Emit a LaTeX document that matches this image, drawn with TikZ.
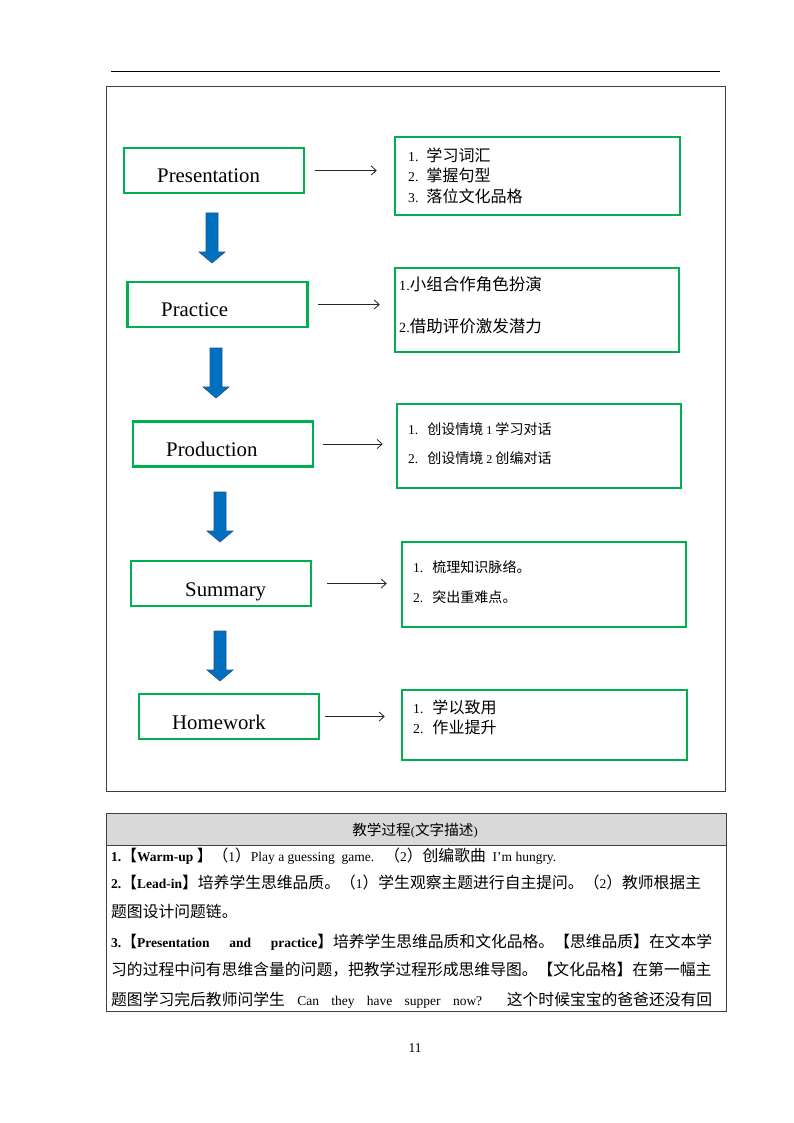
\documentclass[tikz,border=0pt]{standalone}
\usepackage{fontspec}
\setmainfont{Liberation Serif}
\newfontfamily\cjk[Scale=1.17]{Noto Sans CJK SC}
\newcommand\zh[1]{{\cjk #1}}
\newcommand\bignum[1]{{\fontsize{13.5}{16}\selectfont #1}}
\XeTeXlinebreaklocale "zh"
\XeTeXlinebreakskip=0pt plus 2pt minus 0.5pt
\usetikzlibrary{arrows.meta}
\definecolor{boxgreen}{RGB}{0,176,80}
\definecolor{arrowblue}{RGB}{0,112,192}
\definecolor{arrowedge}{RGB}{40,80,140}
\definecolor{framegray}{RGB}{64,64,64}
\definecolor{headgray}{RGB}{217,217,217}
\newcommand\blockdown[2]{\filldraw[bluearrow] (#1-6,#2) -- (#1+6,#2) -- (#1+6,#2+39) -- (#1+13,#2+39) -- (#1,#2+50) -- (#1-13,#2+39) -- (#1-6,#2+39) -- cycle;}
\begin{document}
\begin{tikzpicture}[x=1pt,y=-1pt,
  leftbox/.style={draw=boxgreen, line width=2.5pt, minimum width=180pt, minimum height=45pt, inner sep=0pt},
  rightbox/.style={draw=boxgreen, line width=2.5pt, inner sep=0pt},
  lefttext/.style={anchor=base west, inner sep=0pt, font=\fontsize{20.8}{24}\selectfont},
  rtext/.style={anchor=base west, inner sep=0pt, font=\fontsize{13.7}{16}\selectfont},
  rtextsmall/.style={anchor=base west, inner sep=0pt, font=\fontsize{12}{14}\selectfont},
  conn/.style={draw=black!85, line width=0.8pt, -{Straight Barb[length=5pt,width=9pt]}},
  bluearrow/.style={fill=arrowblue, draw=arrowedge, line width=0.6pt},
  ttext/.style={anchor=base west, inner sep=0pt, font=\fontsize{13.5}{16}\selectfont},
]
\useasboundingbox (0,0) rectangle (794,1123);
\fill[white] (0,0) rectangle (794,1123);

% header rule and outer frame
\draw[black, line width=1pt] (111,72) -- (720,72);
\draw[framegray, line width=1pt] (106,87) rectangle (725,791);

% left boxes
\node[leftbox] (l1) at (214,170.5) {};
\node[leftbox] (l2) at (217.5,304.5) {};
\node[leftbox] (l3) at (223,444) {};
\node[leftbox] (l4) at (221,583.5) {};
\node[leftbox] (l5) at (229,716.5) {};
\node[lefttext] (t1) at (157,183) {Presentation};
\node[lefttext] (t2) at (161,316) {Practice};
\node[lefttext] (t3) at (166,456) {Production};
\node[lefttext] (t4) at (185,596) {Summary};
\node[lefttext] (t5) at (172,729) {Homework};

% right boxes
\node[rightbox, minimum width=285pt, minimum height=78pt] (r1) at (537.5,176) {};
\node[rightbox, minimum width=284pt, minimum height=84pt] (r2) at (537,310) {};
\node[rightbox, minimum width=284pt, minimum height=84pt] (r3) at (539,446) {};
\node[rightbox, minimum width=284pt, minimum height=85pt] (r4) at (544,584.5) {};
\node[rightbox, minimum width=285pt, minimum height=70pt] (r5) at (544.5,725) {};

\node[rtext] (a11) at (408,162) {1.\hspace{8pt}\zh{学习词汇}};
\node[rtext] (a12) at (408,182) {2.\hspace{8pt}\zh{掌握句型}};
\node[rtext] (a13) at (408,203) {3.\hspace{8pt}\zh{落位文化品格}};
\node[rtext, font=\fontsize{14.1}{16}\selectfont] (a21) at (399,290) {1.\zh{小组合作角色扮演}};
\node[rtext, font=\fontsize{14.1}{16}\selectfont] (a22) at (399,332) {2.\zh{借助评价激发潜力}};
\node[rtextsmall] (a31) at (408,434) {\bignum{1.}\hspace{9pt}\zh{创设情境} 1 \zh{学习对话}};
\node[rtextsmall] (a32) at (408,463) {\bignum{2.}\hspace{9pt}\zh{创设情境} 2 \zh{创编对话}};
\node[rtextsmall] (a41) at (413,572) {\bignum{1.}\hspace{9pt}\zh{梳理知识脉络。}};
\node[rtextsmall] (a42) at (413,602) {\bignum{2.}\hspace{9pt}\zh{突出重难点。}};
\node[rtext] (a51) at (413,713) {1.\hspace{9pt}\zh{学以致用}};
\node[rtext] (a52) at (413,733) {2.\hspace{9pt}\zh{作业提升}};

% thin arrows
\draw[conn] ([xshift=10pt]l1.east) -- ([xshift=-17pt]l1.east -| r1.west);
\draw[conn] ([xshift=9pt]l2.east) -- ([xshift=-14pt]l2.east -| r2.west);
\draw[conn] ([xshift=9pt]l3.east) -- ([xshift=-13pt]l3.east -| r3.west);
\draw[conn] ([xshift=15pt]l4.east) -- ([xshift=-14pt]l4.east -| r4.west);
\draw[conn] ([xshift=5pt]l5.east) -- ([xshift=-16pt]l5.east -| r5.west);

% blue block arrows
\blockdown{212}{213}
\blockdown{216}{348}
\blockdown{220}{492}
\blockdown{220}{631}

% table
\draw[framegray, line width=1pt, fill=headgray] (106,813) rectangle (726,845);
\draw[framegray, line width=1pt] (106,813) rectangle (726,1011);
\node[anchor=base, inner sep=0pt, font=\fontsize{12.5}{15}\selectfont] (th) at (415,835) {\zh{教学过程}(\zh{文字描述})};

\node[ttext] (b1) at (111,861) {\textbf{1.}\zh{【}\textbf{Warm-up }\zh{】（}1\zh{）}Play a guessing\ \ game.\ \ \ \zh{（}2\zh{）创编歌曲}\ \ I'm hungry.};
\node[ttext] (b2) at (111,888) {\makebox[601pt][s]{\textbf{2.}\zh{【}\textbf{Lead-in}\zh{】培养学生思维品质。（}1\zh{）学生观察主题进行自主提问。（}2\zh{）教师根据主}}};
\node[ttext] (b3) at (111,917) {\zh{题图设计问题链。}};
\node[ttext] (b4) at (111,947) {\makebox[601pt][s]{\textbf{3.}\zh{【}\textbf{Presentation\ \ and\ \ practice}\zh{】培养学生思维品质和文化品格。【思维品质】在文本学}}};
\node[ttext] (b5) at (111,975) {\makebox[601pt][s]{\zh{习的过程中问有思维含量的问题，把教学过程形成思维导图。【文化品格】在第一幅主}}};
\node[ttext] (b6) at (111,1005) {\makebox[601pt][s]{\zh{题图学习完后教师问学生} Can they have supper now?\ \ \zh{这个时候宝宝的爸爸还没有回}}};

% page number
\node[anchor=base, inner sep=0pt, font=\fontsize{13.5}{16}\selectfont] (pg) at (415,1052) {11};
\end{tikzpicture}
\end{document}
